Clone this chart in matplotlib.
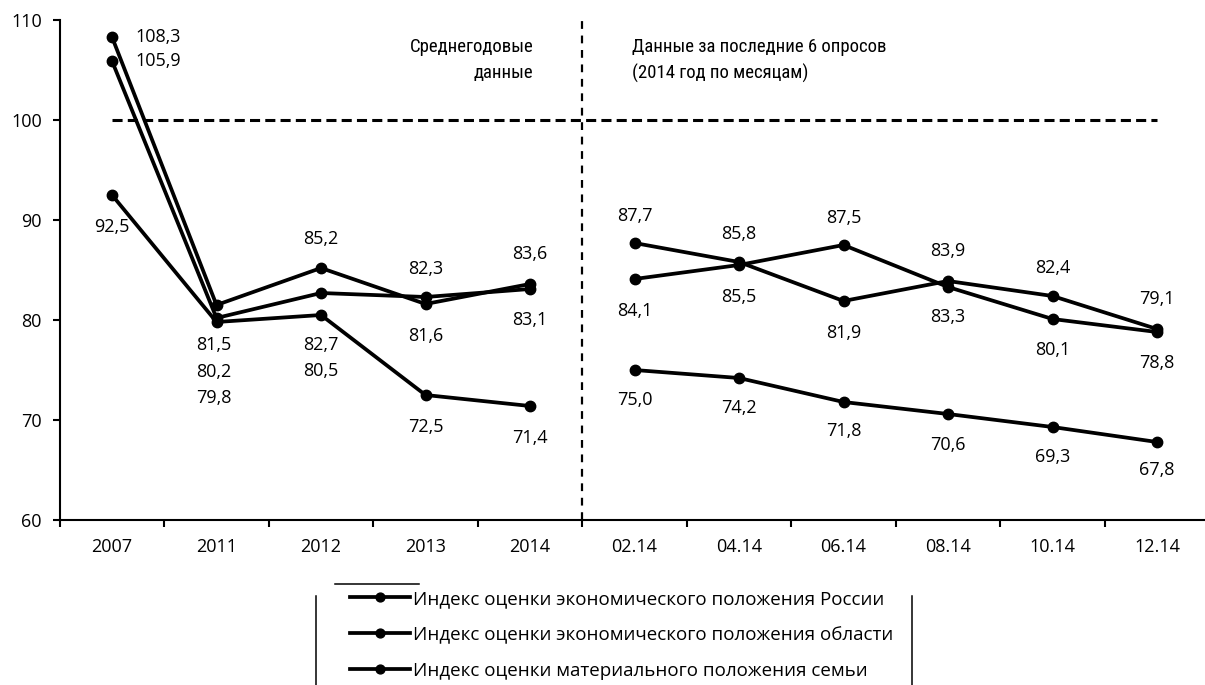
import numpy as np
import matplotlib.pyplot as plt
from matplotlib.lines import Line2D

categories = ['2007', '2011', '2012', '2013', '2014',
              '02.14', '04.14', '06.14', '08.14', '10.14', '12.14']
n_annual = 5

russia = [108.3, 81.5, 85.2, 81.6, 83.6, 87.7, 85.8, 81.9, 83.9, 82.4, 79.1]
region = [105.9, 80.2, 82.7, 82.3, 83.1, 84.1, 85.5, 87.5, 83.3, 80.1, 78.8]
family = [92.5, 79.8, 80.5, 72.5, 71.4, 75.0, 74.2, 71.8, 70.6, 69.3, 67.8]

names = ['Индекс оценки экономического положения России',
         'Индекс оценки экономического положения области',
         'Индекс оценки материального положения семьи']

# label offsets in pixels (dx, dy), placed by hand like in the original
offs_russia = [(23, 0), (-3, -40), (0, 29), (0, -32), (0, 30), (0, 27),
               (0, 28), (0, -32), (0, 30), (0, 28), (0, 30)]
offs_region = [(23, 0), (-3, -54), (0, -52), (0, 28), (0, -31), (0, -32),
               (0, -32), (0, 27), (0, -30), (0, -31), (0, -31)]
offs_family = [(0, -32), (-3, -76), (0, -56), (0, -32), (0, -32), (0, -30),
               (0, -30), (0, -29), (0, -31), (0, -30), (0, -28)]


def fmt(v):
    return ('%.1f' % v).replace('.', ',')


fig = plt.figure(figsize=(12.05, 6.85), dpi=100)
ax = fig.add_axes([59.75 / 1205, 165 / 685, 1149.5 / 1205, 500 / 685])

x = np.arange(len(categories))
series = [(russia, offs_russia), (region, offs_region), (family, offs_family)]
for (vals, offs), name in zip(series, names):
    v = np.array(vals)
    ax.plot(x[:n_annual], v[:n_annual], color='black', lw=2.7, marker='o',
            ms=7.5, label=name, solid_joinstyle='round')
    ax.plot(x[n_annual:], v[n_annual:], color='black', lw=2.7, marker='o',
            ms=7.5, solid_joinstyle='round')
    for xi, vi, (dx, dy) in zip(x, v, offs):
        ax.annotate(fmt(vi), (xi, vi), xytext=(dx, dy),
                    textcoords='offset pixels', ha='left' if dx > 10 else 'center',
                    va='center', fontsize=13, family='Open Sans')

ax.hlines(100, x[0], x[-1], color='black', lw=2.2, linestyles=(0, (3.3, 1.7)))
ax.axvline(n_annual - 0.5, color='black', lw=1.6, ls=(0, (3.5, 3)))

narrow = dict(fontsize=13.5, va='center', fontstretch='condensed',
              family=['Liberation Sans Narrow', 'Roboto Condensed',
                      'DejaVu Sans'])
ax.text(4.03, 107.3, 'Среднегодовые', ha='right', **narrow)
ax.text(4.03, 104.7, 'данные', ha='right', **narrow)
ax.text(4.98, 107.3, 'Данные за последние 6 опросов', ha='left', **narrow)
ax.text(4.98, 104.7, '(2014 год по месяцам)', ha='left', **narrow)

ax.set_xlim(-0.5, len(categories) - 0.5)
ax.set_ylim(60, 110)
ax.set_yticks([60, 70, 80, 90, 100, 110])
ax.set_xticks(x)
ax.set_xticklabels(categories)
ax.set_xticks(np.arange(len(categories) + 1) - 0.5, minor=True)
ax.tick_params(axis='both', labelsize=13, labelfontfamily='Open Sans')
ax.tick_params(axis='x', which='major', length=0, pad=13)
ax.tick_params(axis='x', which='minor', length=5, width=1.5, direction='out')
ax.tick_params(axis='y', length=5, width=1.5, direction='out', pad=8)
for side in ['top', 'right']:
    ax.spines[side].set_visible(False)
for side in ['left', 'bottom']:
    ax.spines[side].set_linewidth(1.5)

fig.legend(loc='upper left', bbox_to_anchor=(350 / 1205, 1 - 590 / 685),
           frameon=False, borderpad=0, borderaxespad=0, handlelength=3.2,
           handletextpad=0.15, labelspacing=0.95, markerscale=0.85,
           prop={'family': 'Open Sans', 'size': 13.5})

# odd remains of the legend frame
fig.add_artist(Line2D([335 / 1205, 419 / 1205], [1 - 584 / 685] * 2,
                      color='black', lw=1.1, transform=fig.transFigure))
fig.add_artist(Line2D([316 / 1205] * 2, [1 - 596 / 685, 0],
                      color='black', lw=1.1, transform=fig.transFigure))
fig.add_artist(Line2D([912 / 1205] * 2, [1 - 596 / 685, 0],
                      color='black', lw=1.1, transform=fig.transFigure))

fig.savefig('out.png', dpi=100)
